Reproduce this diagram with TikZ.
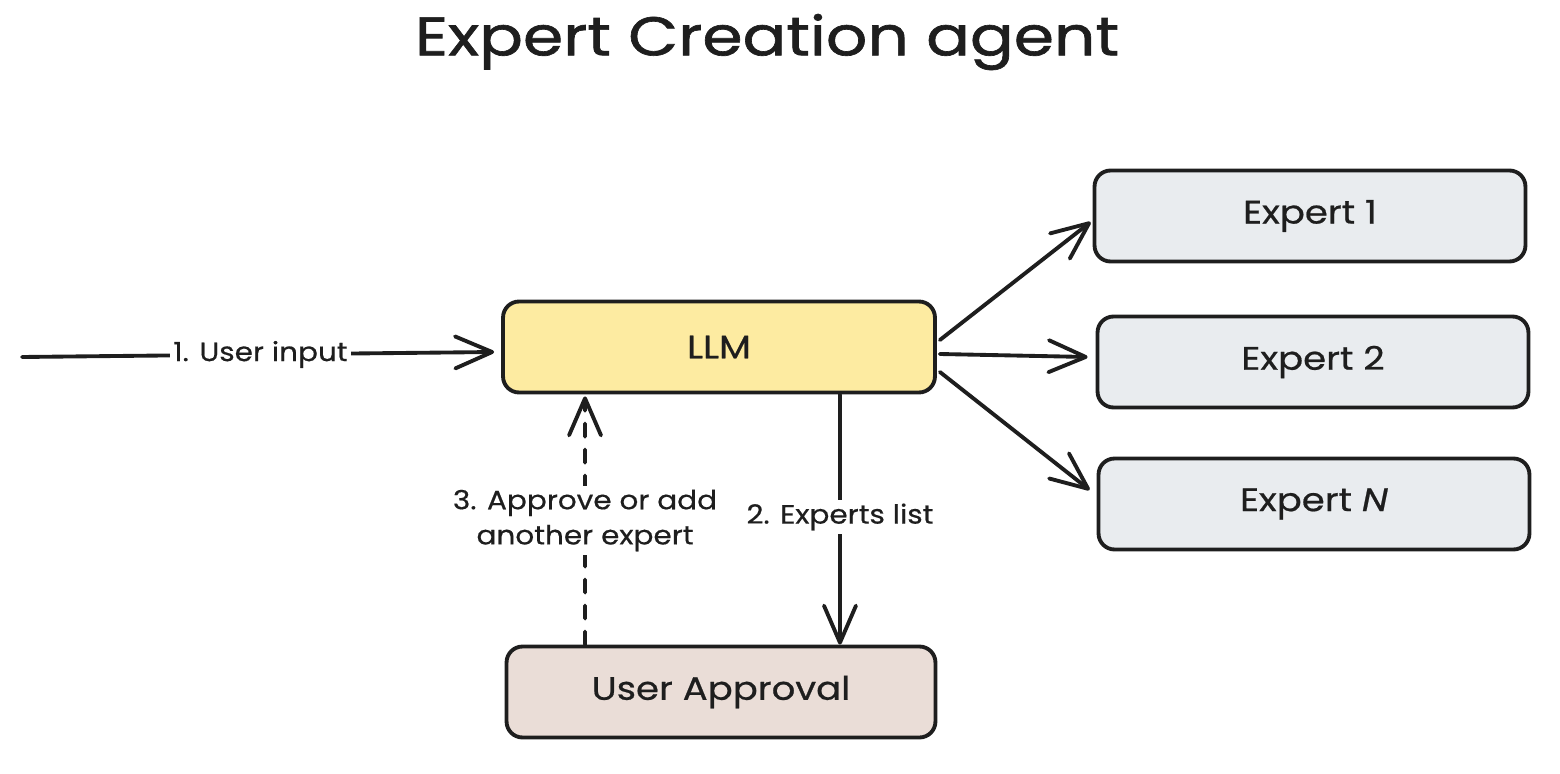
\documentclass[tikz,border=0pt]{standalone}
\usepackage{fontspec}
\setmainfont{Poppins}
\newfontfamily\titlefont[FakeStretch=1.19, FakeBold=1.2]{Poppins}
\newfontfamily\boxfont[FakeStretch=1.14, FakeBold=0.6]{Poppins}
\newfontfamily\lblfont[FakeStretch=1.12, FakeBold=0.5]{Poppins}
\usetikzlibrary{arrows.meta}
\definecolor{llmfill}{HTML}{FDEBA1}
\definecolor{expfill}{HTML}{E9ECEF}
\definecolor{uafill}{HTML}{EADDD7}
\definecolor{ink}{HTML}{1E1E1E}
\tikzset{
  boxnode/.style={draw=ink, line width=2.2pt, rounded corners=0.32cm, minimum width=8.62cm, minimum height=1.82cm, font=\boxfont\fontsize{18.5}{22}\selectfont, text=ink, inner sep=0pt},
  conn/.style={draw=ink, line width=2.2pt, line cap=round, line join=round, -{Straight Barb[length=0.74cm, width=0.64cm, line cap=round, line join=round]}},
  lbl/.style={fill=white, font=\lblfont\fontsize{15}{20}\selectfont, text=ink, inner sep=2pt, align=center}
}
\begin{document}
\begin{tikzpicture}[x=0.02cm, y=-0.02cm]
\useasboundingbox (0,0) rectangle (1560,774);
\node[font=\titlefont\fontsize{31}{38}\selectfont, text=ink] (title) at (767,42) {Expert Creation agent};

\node[boxnode, fill=llmfill, minimum width=8.64cm] (llm) at (719,347) {LLM};
\node[boxnode, fill=expfill] (e1) at (1310,216) {Expert 1};
\node[boxnode, fill=expfill] (e2) at (1313,362) {Expert 2};
\node[boxnode, fill=expfill] (eN) at (1314,504) {Expert \textit{N}};
\node[boxnode, fill=uafill, minimum width=8.58cm] (ua) at (721,692) {User Approval};

\coordinate (in) at (22,357);
\draw[conn] (in) -- node[lbl, pos=0.505] (l1) {1. User input} ([yshift=-0.1cm, xshift=-0.14cm]llm.west);

\draw[conn] ([yshift=0.14cm, xshift=0.06cm]llm.east) -- ([yshift=-0.12cm, xshift=-0.04cm]e1.west);
\draw[conn] ([yshift=-0.14cm, xshift=0.06cm]llm.east) -- ([yshift=0.1cm, xshift=-0.16cm]e2.west);
\draw[conn] ([yshift=-0.5cm, xshift=0.06cm]llm.east) -- ([yshift=0.28cm, xshift=-0.14cm]eN.west);

\draw[conn] ([xshift=2.42cm]llm.south) -- node[lbl, pos=0.49] (l2) {2. Experts list} ([xshift=2.38cm]ua.north);
\draw[conn, dash pattern=on 0.26cm off 0.26cm] ([xshift=-2.72cm]ua.north) -- node[lbl, pos=0.5] (l3) {3. Approve or add\\another expert} ([xshift=-2.68cm, yshift=-0.04cm]llm.south);
\end{tikzpicture}
\end{document}
